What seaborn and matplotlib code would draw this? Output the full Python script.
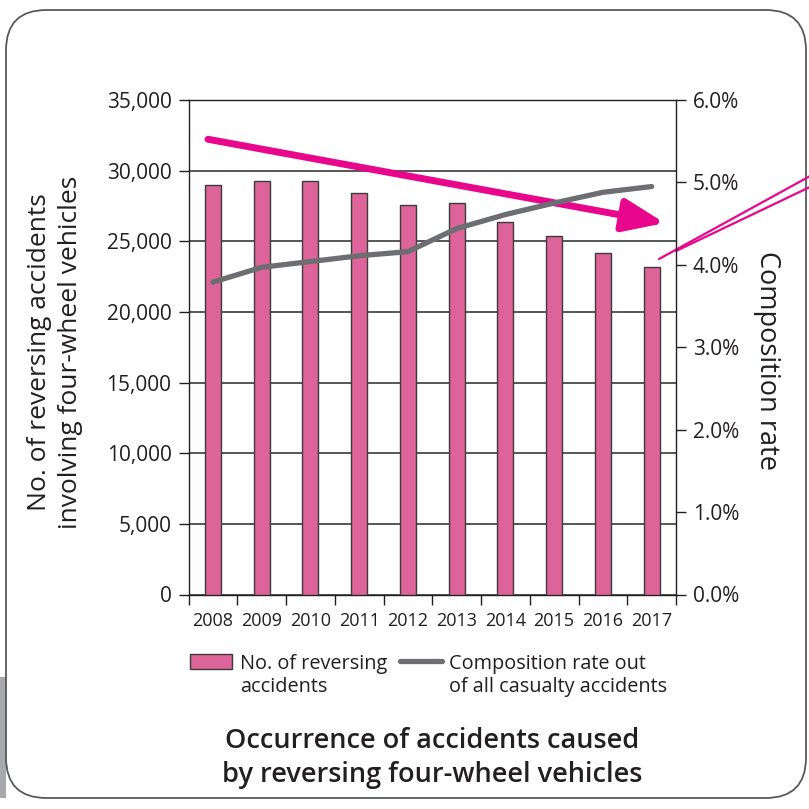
import matplotlib
matplotlib.use("Agg")
import matplotlib.pyplot as plt
import matplotlib.ticker as mticker
from matplotlib.patches import FancyBboxPatch, Patch, Rectangle
from matplotlib.lines import Line2D
import numpy as np
import pandas as pd
import seaborn as sns

# ---------------- data ----------------
years = ["2008", "2009", "2010", "2011", "2012", "2013", "2014", "2015", "2016", "2017"]
accidents = [29000, 29300, 29300, 28400, 27600, 27700, 26400, 25400, 24200, 23200]
composition_rate = [3.79, 3.97, 4.04, 4.11, 4.16, 4.44, 4.61, 4.75, 4.88, 4.95]
left_ticks = [0, 5000, 10000, 15000, 20000, 25000, 30000, 35000]
right_ticks = [0.0, 1.0, 2.0, 3.0, 4.0, 5.0, 6.0]
bar_label = "No. of reversing\naccidents"
line_label = "Composition rate out\nof all casualty accidents"
left_ylabel = "No. of reversing accidents\ninvolving four-wheel vehicles"
right_ylabel = "Composition rate"
title = "Occurrence of accidents caused\nby reversing four-wheel vehicles"

df = pd.DataFrame({"year": years, "accidents": accidents, "rate": composition_rate})

# ---------------- style ----------------
sns.set_theme(style="white")
plt.rcParams["font.family"] = ["Open Sans", "DejaVu Sans"]
TXT = "#231f20"
BAR = "#dc6499"
GRAY = "#6d6e71"
MAG = "#e8068c"
W = 809

fig = plt.figure(figsize=(8.09, 8.09), dpi=100)
fig.patch.set_facecolor("white")

# panel background
fig.patches.append(Rectangle((0, (W - 798) / W), 6 / W, (798 - 677) / W, transform=fig.transFigure,
                             facecolor="#a7a9ac", edgecolor="none", zorder=0))
panel = FancyBboxPatch((6 / W, 1 - 798 / W), 800 / W, 788 / W, transform=fig.transFigure,
                       boxstyle="round,pad=0,rounding_size=0.05", facecolor="white",
                       edgecolor="#58595b", linewidth=1.3, zorder=0.5)
fig.patches.append(panel)

ax = fig.add_axes([188.5 / W, 1 - 594.5 / W, 487.5 / W, 494.5 / W])
ax.set_facecolor("none")
ax.set_zorder(2)

sns.barplot(data=df, x="year", y="accidents", ax=ax, color=BAR, width=0.33,
            edgecolor="#3c3c3c", linewidth=1.0, saturation=1, zorder=3)
ax.set_ylim(0, 35000)
ax.set_xlim(-0.5, len(years) - 0.5)
ax.set_yticks(left_ticks)
ax.yaxis.set_major_formatter(mticker.FuncFormatter(lambda v, p: f"{int(v):,}"))
ax.yaxis.grid(True, color="#3a3a3a", linewidth=1.2, zorder=1)
ax.set_axisbelow(True)
ax.xaxis.grid(False)
ax.set_xlabel("")
ax.set_ylabel(left_ylabel, fontsize=19, color=TXT, linespacing=1.35, va="center")
ax.yaxis.set_label_coords(-0.274, 0.49)

ax.tick_params(axis="y", which="major", direction="out", length=7.2, width=1.0,
               color="#231f20", labelsize=15, labelcolor=TXT, pad=5, left=True)
ax.set_xticks(np.arange(len(years)))
ax.set_xticklabels(years, fontsize=13, color=TXT)
ax.set_xticks(np.arange(len(years) + 1) - 0.5, minor=True)
ax.tick_params(axis="x", which="major", length=0, pad=12.5)
ax.tick_params(axis="x", which="minor", direction="out", length=7.2, width=1.0,
               color="#231f20", bottom=True)
for s in ax.spines.values():
    s.set_visible(True)
    s.set_color("#231f20")
    s.set_linewidth(1.0)

ax2 = ax.twinx()
ax2.set_zorder(3)
sns.lineplot(x=np.arange(len(years)), y=df["rate"], ax=ax2, color=GRAY, linewidth=3.8,
             solid_capstyle="round", solid_joinstyle="round")
ax2.set_ylim(0, 6)
ax2.set_yticks(right_ticks)
ax2.yaxis.set_major_formatter(mticker.FuncFormatter(lambda v, p: f"{v:.1f}%"))
ax2.tick_params(axis="y", direction="out", length=7.2, width=1.0, color="#231f20",
                labelsize=15, labelcolor=TXT, pad=5, right=True)
ax2.grid(False)
ax2.set_ylabel(right_ylabel, fontsize=19.5, color=TXT, rotation=270, va="center")
ax2.yaxis.set_label_coords(1.187, 0.474)
for s in ax2.spines.values():
    s.set_visible(False)

# trend arrow (annotation, in data coords of left axis)
ax.annotate("", xy=(9.27, 26290), xytext=(-0.1, 32220), annotation_clip=False,
            arrowprops=dict(arrowstyle="-|>,head_length=1.25,head_width=0.5", color=MAG,
                            lw=5, shrinkA=0, shrinkB=0, mutation_scale=20,
                            capstyle="round"), zorder=5)

# callout lines to the right
fig.add_artist(Line2D([659 / W, 812 / W], [1 - 259 / W, 1 - 175 / W], color=MAG, lw=1.6))
fig.add_artist(Line2D([676 / W, 812 / W], [1 - 251 / W, 1 - 186 / W], color=MAG, lw=1.6))

# legend
handles = [Patch(facecolor=BAR, edgecolor="#3c3c3c", linewidth=1.0),
           Line2D([0], [0], color=GRAY, lw=3.8, solid_capstyle="round")]
leg = fig.legend(handles, [bar_label, line_label], loc="upper left",
                 bbox_to_anchor=(190 / W, 1 - 654 / W), ncol=2, frameon=False,
                 borderaxespad=0, borderpad=0, fontsize=14.3, handlelength=2.1,
                 handleheight=0.8, handletextpad=0.4, columnspacing=0.65,
                 labelspacing=0.3)
for t in leg.get_texts():
    t.set_color(TXT)
    t.set_linespacing(1.2)
try:
    for col in leg._legend_handle_box.get_children():
        for item in col.get_children():
            item.align = "top"
except Exception:
    pass

fig.text(432 / W, 1 - 758 / W, title, ha="center", va="center", fontsize=19.5,
         fontweight="semibold", color=TXT, linespacing=1.25)

fig.savefig("out.png", dpi=100, facecolor="white")
